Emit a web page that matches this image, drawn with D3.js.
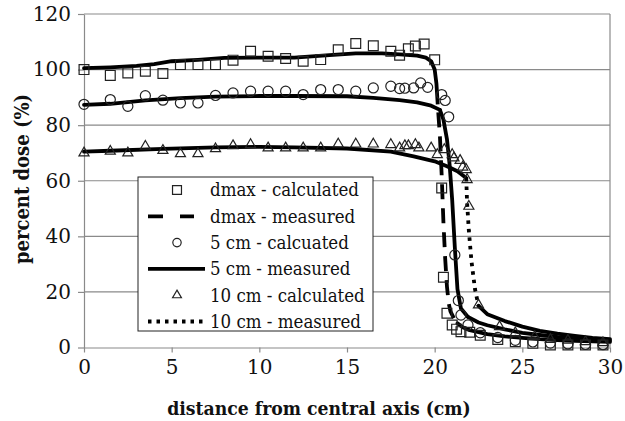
<!DOCTYPE html>
<html>
<head>
<meta charset="utf-8">
<script src="https://cdn.jsdelivr.net/npm/d3@7"></script>
<style>
  body { margin: 0; background: #fff; }
  svg { display: block; }
</style>
</head>
<body>
<svg id="chart" width="625" height="421"></svg>
<script>
// Off-axis dose profiles: calculated points and measured scans at three depths.
const xTicks = [0, 5, 10, 15, 20, 25, 30];
const yTicks = [0, 20, 40, 60, 80, 100, 120];

const dmaxCalcX = [0, 1.5, 2.5, 3.5, 4.5, 5.5, 6.5, 7.5, 8.5, 9.5, 10.5, 11.5, 12.5, 13.5, 14.5, 15.5, 16.5, 17.5, 18, 18.5, 18.9, 19.4, 20, 20.4, 20.5, 20.7, 21, 21.25, 21.5, 22, 22.6, 23.6, 24.6, 25.6, 26.6, 27.6, 28.6, 29.6];
const dmaxCalc  = [100, 97.9, 98.8, 99.4, 98.6, 101.8, 101.8, 101.8, 103.4, 106.6, 104.8, 104, 103, 103.6, 107.1, 109.4, 108.6, 106.6, 105.2, 107.5, 108.5, 109.2, 103.5, 57.4, 25.3, 12.3, 8.1, 6.6, 5.7, 5.5, 4.4, 2.9, 2.1, 1.5, 0.9, 0.9, 0.9, 0.9];

const cm5CalcX = [0, 1.5, 2.5, 3.5, 4.5, 5.5, 6.5, 7.5, 8.5, 9.5, 10.5, 11.5, 12.5, 13.5, 14.5, 15.5, 16.5, 17.5, 18, 18.3, 18.8, 19.2, 19.6, 20.4, 20.6, 20.8, 21.15, 21.35, 21.5, 21.9, 22.6, 23.6, 24.6, 25.6, 26.6, 27.6, 28.6, 29.6];
const cm5Calc  = [87.5, 89.2, 86.8, 90.6, 89, 88, 88, 90.7, 91.6, 92.2, 92.2, 92.2, 91, 92.8, 92.8, 92.2, 93.4, 94, 93.2, 93.3, 93.4, 95.2, 93.6, 91, 88.9, 83, 33.3, 16.9, 11.7, 8.1, 5.3, 3.6, 2.6, 2, 1.6, 1.3, 1.1, 1.0];

const cm10CalcX = [0, 1.5, 2.5, 3.5, 4.5, 5.5, 6.5, 7.5, 8.5, 9.5, 10.5, 11.5, 12.5, 13.5, 14.5, 15.5, 16.5, 17.5, 18, 18.3, 18.5, 18.9, 19.1, 19.8, 20.15, 20.55, 21, 21.1, 21.45, 21.6, 21.8, 21.85, 21.95, 22.5, 23.7, 24.6, 25.7, 26.6, 27.6, 28.6, 29.6];
const cm10Calc  = [70, 70.6, 70, 72.4, 70.9, 69.7, 69.7, 71.5, 72.6, 73, 71.8, 71.8, 71.8, 71.8, 73.2, 73.2, 73.2, 73, 71.8, 72.6, 72.6, 73, 71.8, 71.8, 69.4, 71.2, 69.4, 68.2, 67.3, 64.9, 64, 60.4, 50.8, 15.3, 7.5, 5.3, 3.9, 2.9, 2.6, 2.1, 1.7];

const dmaxMeasX = [0, 1.5, 3, 4, 5, 6.5, 8, 10, 12, 14, 15.5, 17, 18, 19, 19.5, 19.8, 20, 20.1, 20.2, 20.3, 20.4, 20.5, 20.6, 20.7, 20.8, 20.9, 21.1, 21.3, 21.6, 22, 23, 24, 25, 26, 27, 28, 29, 30];
const dmaxMeas  = [100.5, 100.8, 101.3, 102, 103, 103.5, 104.2, 104.3, 104.3, 105.2, 105.8, 105.8, 105.5, 105, 104.3, 103, 100, 95, 85, 76, 62, 45, 32, 22, 16, 13, 10.5, 8.7, 7.3, 6.2, 4.8, 4, 3.5, 3, 2.7, 2.4, 2.2, 2];

const cm5MeasX = [0, 1.5, 3.5, 5.5, 7.5, 10, 12, 15, 16.5, 18, 19, 19.8, 20.3, 20.5, 20.7, 20.85, 21, 21.15, 21.3, 21.5, 21.9, 22.5, 23, 24, 25, 26, 27, 28, 29, 30];
const cm5Meas  = [87.3, 87.7, 88.9, 89.7, 90.3, 90.5, 90.5, 90.4, 89.8, 89, 88.2, 87, 85.5, 82, 75, 66, 53, 36, 21, 14, 11, 9, 8, 6.5, 5.3, 4.5, 3.8, 3.3, 2.8, 2.5];

const cm10MeasX = [0, 1.5, 4.5, 7.5, 10, 12, 15, 17.5, 18.8, 20, 20.7, 21.3, 21.8, 21.85, 21.95, 22.1, 22.3, 22.5, 23, 24, 25, 26, 27, 28, 29, 30];
const cm10Meas  = [70.5, 70.8, 71.5, 72, 72.2, 72, 71.6, 70.5, 68.8, 67, 65.2, 63.4, 61, 52, 42, 31, 21, 15, 12, 9.5, 7.5, 6, 5, 4.2, 3.5, 3];

const legendLabels = ["dmax - calculated", "dmax - measured", "5 cm - calcuated", "5 cm - measured", "10 cm - calculated", "10 cm - measured"];

const svg = d3.select("#chart");
const plot = { left: 84, right: 610, top: 14, bottom: 347.5 };
const x = d3.scaleLinear().domain([0, 30]).range([plot.left, plot.right]);
const y = d3.scaleLinear().domain([0, 120]).range([plot.bottom, plot.top]);

const gridColor = "#8a8a8a";

// horizontal gridlines
svg.append("g")
  .selectAll("line")
  .data(yTicks.filter(v => v > 0))
  .join("line")
  .attr("x1", plot.left).attr("x2", plot.right)
  .attr("y1", d => y(d)).attr("y2", d => y(d))
  .attr("stroke", gridColor).attr("stroke-width", 1.2);

// right edge of the plot area
svg.append("line")
  .attr("x1", plot.right).attr("x2", plot.right)
  .attr("y1", plot.top).attr("y2", plot.bottom)
  .attr("stroke", gridColor).attr("stroke-width", 1.2);

// axes
const yAxis = svg.append("g")
  .attr("transform", `translate(${plot.left},0)`)
  .call(d3.axisLeft(y).tickValues(yTicks).tickSize(6).tickPadding(7).tickSizeOuter(0));
const xAxis = svg.append("g")
  .attr("transform", `translate(0,${plot.bottom})`)
  .call(d3.axisBottom(x).tickValues(xTicks).tickSize(5).tickPadding(7).tickSizeOuter(0));

[xAxis, yAxis].forEach(a => {
  a.attr("font-family", "DejaVu Serif").attr("font-size", 20);
  a.select(".domain").attr("stroke", gridColor).attr("stroke-width", 1.2);
  a.selectAll(".tick line").attr("stroke", gridColor).attr("stroke-width", 1.2);
  a.selectAll(".tick text").attr("fill", "#111");
});

// axis titles
svg.append("text")
  .attr("x", 319).attr("y", 415)
  .attr("text-anchor", "middle")
  .attr("font-family", "DejaVu Serif Condensed")
  .attr("font-weight", "bold").attr("font-size", 19.2)
  .attr("fill", "#111")
  .text("distance from central axis (cm)");

svg.append("text")
  .attr("transform", "translate(29,179) rotate(-90)")
  .attr("text-anchor", "middle")
  .attr("font-family", "DejaVu Serif Condensed")
  .attr("font-weight", "bold").attr("font-size", 20)
  .attr("fill", "#111")
  .text("percent dose (%)");

const lineGen = d3.line();

// Measured scans: densely sampled shoulders and tails read as a solid stroke,
// the sparse points through the penumbra show the line's dash pattern.
function drawMeasured(xs, ys, dash) {
  const pts = xs.map((v, i) => [x(v), y(ys[i])]);
  const runs = [];
  let cur = null;
  for (let i = 0; i < pts.length - 1; i++) {
    const dx = Math.abs(pts[i + 1][0] - pts[i][0]);
    const dy = Math.abs(pts[i + 1][1] - pts[i][1]);
    const steep = dy > dx;
    if (!cur || cur.steep !== steep) {
      cur = { steep, pts: [pts[i]] };
      runs.push(cur);
    }
    cur.pts.push(pts[i + 1]);
  }
  runs.forEach(r => {
    const dashed = r.steep && dash;
    svg.append("path")
      .attr("d", lineGen(r.pts))
      .attr("fill", "none")
      .attr("stroke", "#000")
      .attr("stroke-width", 3.8)
      .attr("stroke-linejoin", "round")
      .attr("stroke-linecap", dashed ? "butt" : "round")
      .attr("stroke-dasharray", dashed ? dash : null);
  });
}

// long first dash, then the regular pattern through the penumbra
const dmaxDash = "44,8" + ",15,9".repeat(16);
const dotDash = "3.5,5";

drawMeasured(dmaxMeasX, dmaxMeas, dmaxDash);
drawMeasured(cm5MeasX, cm5Meas, null);
drawMeasured(cm10MeasX, cm10Meas, dotDash);

// calculated points, open markers
const markerStroke = "#222";
function drawPoints(xs, ys, type, size) {
  const sym = d3.symbol().type(type).size(size);
  svg.append("g")
    .selectAll("path")
    .data(xs.map((v, i) => [v, ys[i]]))
    .join("path")
    .attr("transform", d => `translate(${x(d[0])},${y(d[1])})`)
    .attr("d", sym())
    .attr("fill", "none")
    .attr("stroke", markerStroke)
    .attr("stroke-width", 1.2);
}
drawPoints(dmaxCalcX, dmaxCalc, d3.symbolSquare, 96);
drawPoints(cm5CalcX, cm5Calc, d3.symbolCircle, 80);
drawPoints(cm10CalcX, cm10Calc, d3.symbolTriangle, 44);

// legend
const lg = { x: 138, y: 177, w: 235, h: 154 };
const legend = svg.append("g");
legend.append("rect")
  .attr("x", lg.x).attr("y", lg.y).attr("width", lg.w).attr("height", lg.h)
  .attr("fill", "#fff").attr("stroke", "#222").attr("stroke-width", 1);

const rowY = i => 190 + i * 26.3;
const symX = 177;
const legendMarks = [
  { kind: "sym", type: d3.symbolSquare, size: 80 },
  { kind: "line", dash: "15,17", x2: 194 },
  { kind: "sym", type: d3.symbolCircle, size: 55 },
  { kind: "line", dash: null, x2: 205 },
  { kind: "sym", type: d3.symbolTriangle, size: 34 },
  { kind: "line", dash: dotDash, x2: 205 }
];
legendMarks.forEach((mk, i) => {
  const cy = rowY(i);
  if (mk.kind === "sym") {
    legend.append("path")
      .attr("transform", `translate(${symX},${cy})`)
      .attr("d", d3.symbol().type(mk.type).size(mk.size)())
      .attr("fill", "none").attr("stroke", markerStroke).attr("stroke-width", 1.2);
  } else {
    legend.append("line")
      .attr("x1", 148).attr("x2", mk.x2)
      .attr("y1", cy).attr("y2", cy)
      .attr("stroke", "#000").attr("stroke-width", 3.8)
      .attr("stroke-dasharray", mk.dash);
  }
  legend.append("text")
    .attr("x", 210).attr("y", cy)
    .attr("dy", "0.35em")
    .attr("font-family", "DejaVu Serif Condensed")
    .attr("font-size", 18.5)
    .attr("fill", "#111")
    .text(legendLabels[i]);
});
</script>
</body>
</html>
